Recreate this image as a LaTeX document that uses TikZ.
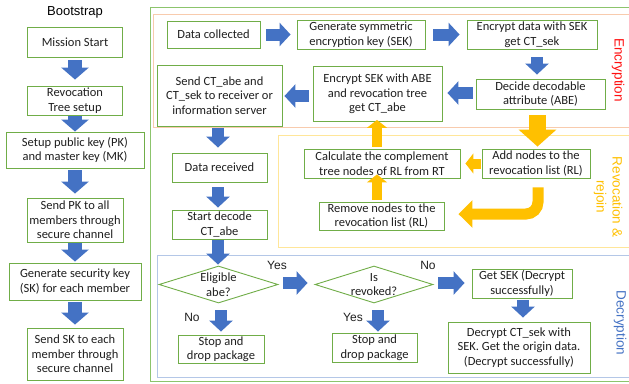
\documentclass[tikz,border=0pt]{standalone}
\usepackage{fontspec}
\setmainfont{Carlito}
\newfontfamily\arialf{Liberation Sans}
\usetikzlibrary{arrows.meta,shapes.geometric,calc}
\definecolor{bgreen}{HTML}{70AD47}
\definecolor{ogreen}{HTML}{8CC46C}
\definecolor{peach}{HTML}{F8CBAD}
\definecolor{lyellow}{HTML}{FFE699}
\definecolor{lblue}{HTML}{B4C7E7}
\definecolor{ablue}{HTML}{4472C4}
\definecolor{ayellow}{HTML}{FFC000}
\definecolor{tred}{HTML}{FF1010}
\begin{document}
\begin{tikzpicture}[x=1pt,y=-1pt,
  box/.style={draw=bgreen, line width=0.9pt, align=center, inner sep=0pt,
    font=\fontsize{12.5}{14.5}\selectfont, text=black!88},
  dia/.style={draw=bgreen, line width=0.9pt, diamond, inner sep=0pt, aspect=3},
  diatxt/.style={align=center, inner sep=0pt, font=\fontsize{12.5}{14.5}\selectfont, text=black!88},
  lbl/.style={inner sep=0pt, font=\arialf\fontsize{12}{14}\selectfont, text=black!88},
  sect/.style={inner sep=0pt, rotate=-90, align=center, font=\arialf\fontsize{13.5}{16}\selectfont},
  barrowL/.style={draw=ablue, line width=14pt, -{Triangle[length=12pt,width=27pt]}},
  barrow/.style={draw=ablue, line width=12pt, -{Triangle[length=11pt,width=23pt]}},
  yarrowB/.style={draw=ayellow, line width=17pt, -{Triangle[length=17pt,width=37pt]}},
  yarrow/.style={draw=ayellow, line width=10pt, -{Triangle[length=8pt,width=20pt]}},
  yarrowC/.style={draw=ayellow, line width=11pt, -{Triangle[length=14pt,width=27pt]}}
]
\useasboundingbox (0,0) rectangle (629,383);
\fill[white] (0,0) rectangle (629,383);

% group frames
\draw[ogreen, line width=1pt] (150,7) rectangle (645,381);
\draw[peach, line width=1pt] (153,14) rectangle (645,127);
\draw[lyellow, line width=1pt] (278,135) rectangle (645,247);
\draw[lblue, line width=1pt] (157,255) rectangle (645,377);

% section labels
\node[sect, text=tred] (lenc) at (618,70) {Encryption};
\node[sect, text=ayellow] (lrev) at (608,197) {Revocation \&\\rejoin};
\node[sect, text=ablue] (ldec) at (620,323) {Decryption};

% Bootstrap column
\node[inner sep=0pt, font=\arialf\fontsize{13}{15}\selectfont] (title) at (75,12) {Bootstrap};
\node[box, minimum width=95pt, minimum height=30pt] (ms) at (75,42) {Mission Start};
\node[box, minimum width=95pt, minimum height=29pt] (rt) at (75,100.5) {Revocation\\Tree setup};
\node[box, minimum width=138pt, minimum height=36pt] (pk) at (75,150) {Setup public key (PK)\\and master key (MK)};
\node[box, minimum width=96pt, minimum height=44pt] (spk) at (75,220) {Send PK to all\\members through\\secure channel};
\node[box, minimum width=132pt, minimum height=37pt] (gsk) at (75,281.5) {Generate security key\\(SK) for each member};
\node[box, minimum width=96pt, minimum height=52pt] (ssk) at (75,354) {Send SK to each\\member through\\secure channel};

\draw[barrowL] ($(ms.south)+(0,3)$) -- ($(rt.north)+(0,-6)$);
\draw[barrowL] ($(rt.south)+(0,1)$) -- ($(pk.north)+(0,0)$);
\draw[barrowL] ($(pk.south)+(0,2)$) -- ($(spk.north)+(0,-4)$);
\draw[barrowL] ($(spk.south)+(0,1)$) -- ($(gsk.north)+(0,-1)$);
\draw[barrowL] ($(gsk.south)+(0,2)$) -- ($(ssk.north)+(0,-3)$);

% Encryption
\node[box, minimum width=93pt, minimum height=27pt] (dc) at (213.5,34.5) {Data collected};
\node[box, minimum width=128pt, minimum height=29pt] (gen) at (361,34.5) {Generate symmetric\\encryption key (SEK)};
\node[box, minimum width=130pt, minimum height=29pt] (enc) at (532,34.5) {Encrypt data with SEK\\get CT\_sek};
\node[box, minimum width=129pt, minimum height=30pt] (dec) at (540.5,94) {Decide decodable\\attribute (ABE)};
\node[box, minimum width=129pt, minimum height=55pt] (esek) at (377.5,94) {Encrypt SEK with ABE\\and revocation tree\\get CT\_abe};
\node[box, minimum width=125pt, minimum height=61pt] (send) at (219.5,95.5) {Send CT\_abe and\\CT\_sek to receiver or\\information server};

\draw[barrow] ($(dc.east)+(6,0)$) -- ($(gen.west)+(-6,0)$);
\draw[barrow] ($(gen.east)+(8,0)$) -- ($(enc.west)+(-7,0)$);
\draw[barrow] ($(enc.south)+(5,8)$) -- ($(enc.south |- dec.north)+(5,-4)$);
\draw[barrow] ($(dec.west)+(-3,-1)$) -- ($(dec.west -| esek.east)+(5,-1)$);
\draw[barrow] ($(esek.west)+(-4,2)$) -- ($(esek.west -| send.east)+(2,2)$);

% Revocation
\node[box, minimum width=108pt, minimum height=29pt] (add) at (536,163.5) {Add nodes to the\\revocation list (RL)};
\node[box, minimum width=156pt, minimum height=29pt] (calc) at (382,163.5) {Calculate the complement\\tree nodes of RL from RT};
\node[box, minimum width=125pt, minimum height=28pt] (rem) at (381.5,216) {Remove nodes to the\\revocation list (RL)};

\draw[yarrowB] ($(dec.south)+(-3,6)$) -- ($(dec.south |- add.north)+(-3,-2)$);
\draw[yarrow] ($(add.west)+(-1,0)$) -- ($(add.west -| calc.east)+(5,0)$);
\draw[yarrow] ($(calc.north)+(-5,-2)$) -- ($(calc.north |- esek.south)+(-5,-2)$);
\draw[yarrow] ($(rem.north)+(-4.5,-2)$) -- ($(rem.north |- calc.south)+(-4.5,-4)$);
\draw[yarrowC, rounded corners=12pt] ($(add.south)+(2,9)$) |- ($(rem.east)+(14,-2)$);

% Receiving side
\node[box, minimum width=95pt, minimum height=29pt] (dr) at (219.5,167.5) {Data received};
\node[box, minimum width=95pt, minimum height=29pt] (sd) at (219.5,224.5) {Start decode\\CT\_abe};

\draw[barrow] ($(send.south)+(-1.5,2)$) -- ($(send.south |- dr.north)+(-1.5,-5)$);
\draw[barrow] ($(dr.south)+(-1.5,5)$) -- ($(sd.north)+(-1.5,-2)$);

% Decryption
\node[dia, minimum width=119pt, minimum height=37pt] (el) at (218.5,284.5) {};
\node[diatxt] (elt) at (el.center) {Eligible\\abe?};
\node[dia, minimum width=118pt, minimum height=37pt] (rv) at (374,284.5) {};
\node[diatxt] (rvt) at (rv.center) {Is\\revoked?};
\node[box, minimum width=100pt, minimum height=29pt] (gs) at (522,283.5) {Get SEK (Decrypt\\successfully)};
\node[box, minimum width=142pt, minimum height=51pt] (dct) at (519,347.5) {Decrypt CT\_sek with\\SEK. Get the origin data.\\(Decrypt successfully)};
\node[box, minimum width=86pt, minimum height=28pt] (st1) at (221,349) {Stop and\\drop package};
\node[box, minimum width=85pt, minimum height=29pt] (st2) at (374.5,347.5) {Stop and\\drop package};

\draw[barrow] ($(sd.south)+(-1.5,1)$) -- ($(sd.south |- el.north)+(-1.5,-1)$);
\draw[barrow] ($(el.east)+(5,-1.5)$) -- ($(el.east -| rv.west)+(-7,-1.5)$);
\draw[barrow] ($(rv.east)+(5,-1.5)$) -- ($(rv.east -| gs.west)+(-7,-1.5)$);
\draw[barrow] ($(gs.south)+(1,2)$) -- ($(gs.south |- dct.north)+(1,-4)$);
\draw[barrow] ($(el.south)+(2.5,7)$) -- ($(el.south |- st1.north)+(2.5,-3)$);
\draw[barrow] ($(rv.south)+(4,7)$) -- ($(rv.south |- st2.north)+(4,-1)$);

\node[lbl] (y1) at (277,265) {Yes};
\node[lbl] (n1) at (428,265) {No};
\node[lbl] (n2) at (192,317) {No};
\node[lbl] (y2) at (353,317) {Yes};
\end{tikzpicture}
\end{document}
